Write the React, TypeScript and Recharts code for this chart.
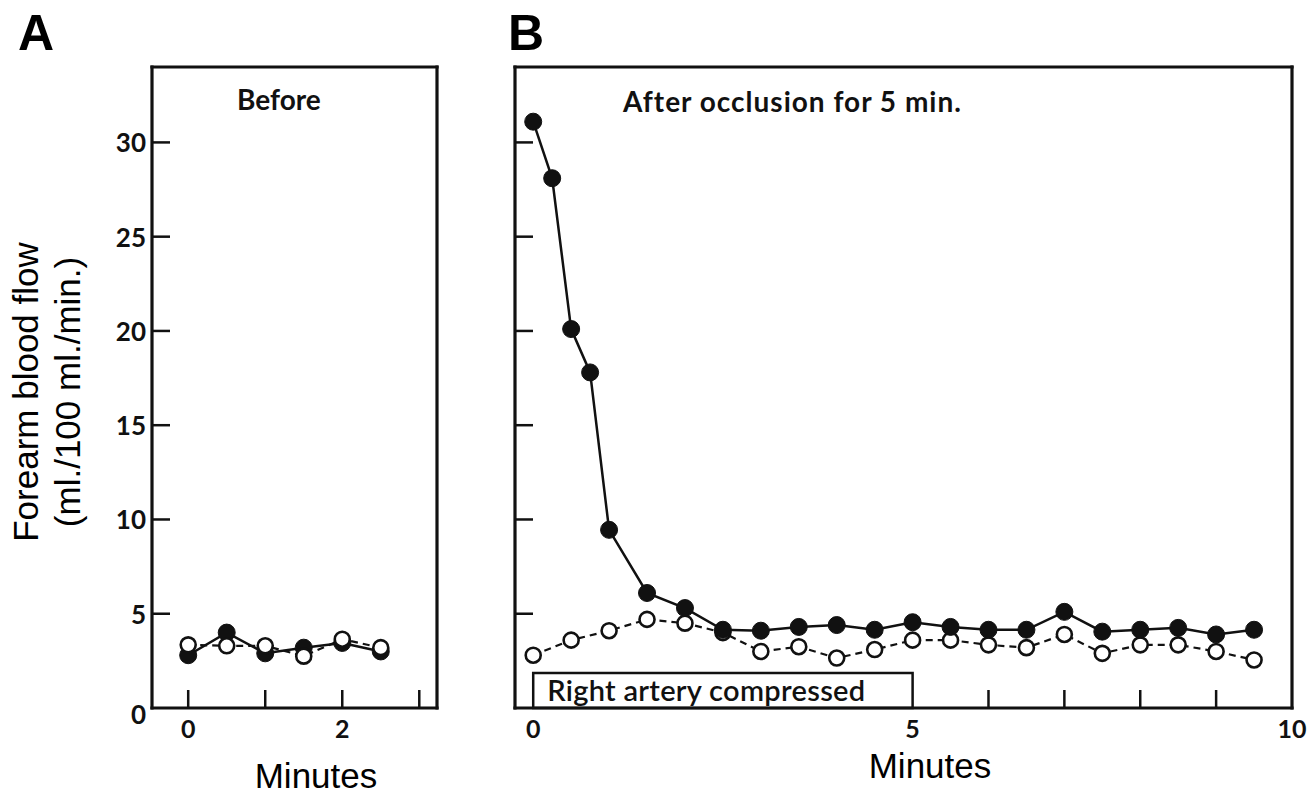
import React from 'react';
import { LineChart, Line, XAxis, YAxis, ReferenceArea } from 'recharts';

// ---------- data ----------
const yTicks = [0, 5, 10, 15, 20, 25, 30];
const yTickLabels = ['0', '5', '10', '15', '20', '25', '30'];

const beforeTicks = [0, 1, 2, 3];
const beforeTickLabels = ['0', '', '2', ''];
const beforeTickMarks = [0, 1, 2, 3];

const afterTicks = [0, 1, 2, 3, 4, 5, 6, 7, 8, 9, 10];
const afterTickLabels = ['0', '', '', '', '', '5', '', '', '', '', '10'];
const afterTickMarks = [6, 7, 8, 9];

const beforeMinutes = [0, 0.5, 1, 1.5, 2, 2.5];
const beforeFilled = [2.8, 4.0, 2.9, 3.2, 3.45, 3.0];
const beforeOpen = [3.35, 3.3, 3.3, 2.75, 3.65, 3.2];

const afterFilledMinutes = [0, 0.25, 0.5, 0.75, 1, 1.5, 2, 2.5, 3, 3.5, 4, 4.5, 5, 5.5, 6, 6.5, 7, 7.5, 8, 8.5, 9, 9.5];
const afterFilled = [31.1, 28.1, 20.1, 17.8, 9.45, 6.1, 5.3, 4.15, 4.1, 4.3, 4.4, 4.15, 4.55, 4.3, 4.15, 4.15, 5.1, 4.05, 4.15, 4.25, 3.9, 4.15];
const afterOpenMinutes = [0, 0.5, 1, 1.5, 2, 2.5, 3, 3.5, 4, 4.5, 5, 5.5, 6, 6.5, 7, 7.5, 8, 8.5, 9, 9.5];
const afterOpen = [2.8, 3.6, 4.1, 4.7, 4.5, 4.0, 3.0, 3.25, 2.65, 3.1, 3.6, 3.6, 3.35, 3.2, 3.9, 2.9, 3.35, 3.35, 3.0, 2.55];

const compressedLabel = 'Right artery compressed';
const compressedStart = 0;
const compressedEnd = 5;
const compressedHeight = 1.86;

const yDomain: [number, number] = [0, 34];
const beforeDomain: [number, number] = [-0.47, 3.23];
const afterDomain: [number, number] = [-0.24, 10];

// ---------- styles ----------
const FONT_T = "Lato, 'Open Sans', sans-serif";
const FONT_H = "'Liberation Sans', Arial, Helvetica, sans-serif";
const INK = '#111';

const toRows = (xs: number[], ys: number[]) => xs.map((m, i) => ({ m, v: ys[i] }));

const filledDot = { r: 8.5, fill: INK, stroke: INK, strokeWidth: 1, strokeDasharray: '0' };
const openDot = { r: 7.5, fill: '#fff', stroke: INK, strokeWidth: 2.6, strokeDasharray: '0' };
const axisLineStyle = { stroke: INK, strokeWidth: 3.2, strokeLinecap: 'square' as const };

function YTick(props: any) {
  const { x, y, payload, showLabels } = props;
  const v = payload.value;
  const idx = yTicks.indexOf(v);
  return (
    <g>
      {v !== 0 && <line x1={x} x2={x + 18} y1={y} y2={y} stroke={INK} strokeWidth={2.5} />}
      {showLabels && (
        <text x={x - 6} y={v === 0 ? y + 16 : y + 10} textAnchor="end" fontSize={26} fontWeight={700} fontFamily={FONT_T} fill={INK}>
          {yTickLabels[idx]}
        </text>
      )}
    </g>
  );
}

function XTick(props: any) {
  const { x, y, payload, ticks, labels, marks } = props;
  const v = payload.value;
  const idx = ticks.indexOf(v);
  const label = labels[idx];
  return (
    <g>
      {marks.includes(v) && <line x1={x} x2={x} y1={y} y2={y - 18} stroke={INK} strokeWidth={2.5} />}
      {label && (
        <text x={x} y={y + 30} textAnchor="middle" fontSize={25} fontWeight={700} fontFamily={FONT_T} fill={INK}>
          {label}
        </text>
      )}
    </g>
  );
}

function Frame({ xDomain, ticks, labels, marks, showYLabels }: any) {
  return [
    <XAxis
      key="xb"
      xAxisId="main"
      dataKey="m"
      type="number"
      domain={xDomain}
      allowDataOverflow
      ticks={ticks}
      interval={0}
      tickSize={0}
      tickMargin={0}
      height={40}
      axisLine={axisLineStyle}
      tickLine={false}
      tick={(p: any) => <XTick {...p} ticks={ticks} labels={labels} marks={marks} />}
    />,
    <XAxis key="xt" xAxisId="top" orientation="top" type="number" domain={xDomain} allowDataOverflow height={1} tick={false} tickLine={false} axisLine={axisLineStyle} />,
    <YAxis
      key="yl"
      yAxisId="main"
      type="number"
      domain={yDomain}
      allowDataOverflow
      ticks={yTicks}
      interval={0}
      tickSize={0}
      tickMargin={0}
      width={40}
      axisLine={axisLineStyle}
      tickLine={false}
      tick={(p: any) => <YTick {...p} showLabels={showYLabels} />}
    />,
    <YAxis key="yr" yAxisId="right" orientation="right" type="number" domain={yDomain} allowDataOverflow width={1} tick={false} tickLine={false} axisLine={axisLineStyle} />,
  ];
}

export default function App() {
  const beforeFilledRows = toRows(beforeMinutes, beforeFilled);
  const beforeOpenRows = toRows(beforeMinutes, beforeOpen);
  const afterFilledRows = toRows(afterFilledMinutes, afterFilled);
  const afterOpenRows = toRows(afterOpenMinutes, afterOpen);

  return (
    <div style={{ position: 'absolute', left: 0, top: 0, width: 1315, height: 797, background: '#fff', overflow: 'hidden' }}>
      <div style={{ position: 'absolute', left: 0, top: 0 }}>
        <LineChart width={470} height={797} margin={{ top: 66, left: 112, right: 32, bottom: 49 }}>
          {Frame({ xDomain: beforeDomain, ticks: beforeTicks, labels: beforeTickLabels, marks: beforeTickMarks, showYLabels: true })}
          <Line xAxisId="main" yAxisId="main" data={beforeFilledRows} dataKey="v" stroke={INK} strokeWidth={2.5} dot={filledDot} isAnimationActive={false} />
          <Line xAxisId="main" yAxisId="main" data={beforeOpenRows} dataKey="v" stroke={INK} strokeWidth={2.2} strokeDasharray="7 5" dot={openDot} isAnimationActive={false} />
        </LineChart>
      </div>
      <div style={{ position: 'absolute', left: 470, top: 0 }}>
        <LineChart width={845} height={797} margin={{ top: 66, left: 5, right: 22, bottom: 49 }}>
          {Frame({ xDomain: afterDomain, ticks: afterTicks, labels: afterTickLabels, marks: afterTickMarks, showYLabels: false })}
          <ReferenceArea
            xAxisId="main"
            yAxisId="main"
            x1={compressedStart}
            x2={compressedEnd}
            y1={0}
            y2={compressedHeight}
            fill="#fff"
            fillOpacity={1}
            stroke={INK}
            strokeWidth={2.5}
            label={{ value: compressedLabel, position: 'insideLeft', offset: 14, fontSize: 29, fontWeight: 600, fontFamily: FONT_T, fill: INK, letterSpacing: 0.3 }}
          />
          <Line xAxisId="main" yAxisId="main" data={afterOpenRows} dataKey="v" stroke={INK} strokeWidth={2.2} strokeDasharray="7 5" dot={openDot} isAnimationActive={false} />
          <Line xAxisId="main" yAxisId="main" data={afterFilledRows} dataKey="v" stroke={INK} strokeWidth={2.5} dot={filledDot} isAnimationActive={false} />
        </LineChart>
      </div>
      <svg width={1315} height={797} style={{ position: 'absolute', left: 0, top: 0, pointerEvents: 'none' }}>
        <text x={18} y={50} fontSize={50} fontWeight={700} fontFamily={FONT_H} fill="#000">A</text>
        <text x={508} y={50} fontSize={50} fontWeight={700} fontFamily={FONT_H} fill="#000">B</text>
        <text x={237} y={110} fontSize={28} fontWeight={700} fontFamily={FONT_T} fill={INK}>Before</text>
        <text x={623} y={112} fontSize={28} fontWeight={700} fontFamily={FONT_T} fill={INK} letterSpacing={1}>After occlusion for 5 min.</text>
        <text transform="translate(38,392) rotate(-90)" textAnchor="middle" fontSize={35} fontFamily={FONT_H} fill="#000">Forearm blood flow</text>
        <text transform="translate(80,392) rotate(-90)" textAnchor="middle" fontSize={35} fontFamily={FONT_H} fill="#000">(ml./100 ml./min.)</text>
        <text x={316} y={788} textAnchor="middle" fontSize={35} fontFamily={FONT_H} fill="#000">Minutes</text>
        <text x={930} y={778} textAnchor="middle" fontSize={35} fontFamily={FONT_H} fill="#000">Minutes</text>
      </svg>
    </div>
  );
}
